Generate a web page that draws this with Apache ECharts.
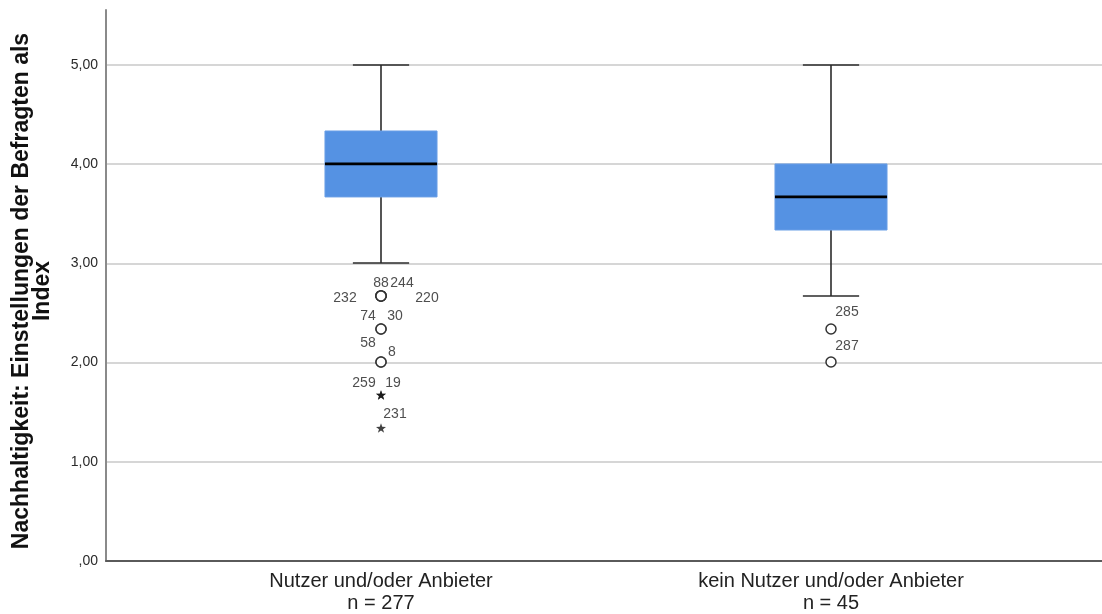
<!DOCTYPE html>
<html>
<head>
<meta charset="utf-8">
<script src="https://cdn.jsdelivr.net/npm/echarts@6/dist/echarts.min.js"></script>
<style>
  html, body { margin: 0; padding: 0; background: #fff; }
  #chart { width: 1102px; height: 614px; }
</style>
</head>
<body>
<div id="chart"></div>
<script>
// Groups and their case counts
const categories = ['Nutzer und/oder Anbieter', 'kein Nutzer und/oder Anbieter'];
const caseCounts = [277, 45];

// Box statistics per group
const whiskerLow  = [3.000, 2.667];
const quartile1   = [3.667, 3.333];
const medians     = [4.000, 3.667];
const quartile3   = [4.333, 4.000];
const whiskerHigh = [5.000, 5.000];

// Outlying cases: [group index, value, case number]
const mildOutliers = [
  [0, 2.667, '88'], [0, 2.667, '244'], [0, 2.667, '232'], [0, 2.667, '220'],
  [0, 2.333, '74'], [0, 2.333, '30'],
  [0, 2.000, '58'], [0, 2.000, '8'],
  [1, 2.333, '285'], [1, 2.000, '287']
];
const extremeOutliers = [
  [0, 1.667, '259'], [0, 1.667, '19'],
  [0, 1.333, '231']
];

// Y axis ticks
const yTicks = [0, 1, 2, 3, 4, 5];
const yMax = 5.555;

// Where each case number sits relative to its marker (px)
const caseLabelOffset = {
  '88': [0, -13], '244': [21, -13], '232': [-36, 2], '220': [46, 2],
  '74': [-13, -13], '30': [14, -13],
  '58': [-13, -19], '8': [11, -10],
  '259': [-17, -12], '19': [12, -12],
  '231': [14, -14],
  '285': [16, -17], '287': [16, -16]
};

const FONT = '"Liberation Sans", Arial, sans-serif';
const BOX_FRAC = 0.249;   // box width as share of a category band
const CAP_FRAC = 0.125;   // whisker cap width as share of a band
const STAR = 'path://M0,-10 L2.35,-3.24 L9.51,-3.09 L3.8,1.24 L5.88,8.09 L0,4 L-5.88,8.09 L-3.8,1.24 L-9.51,-3.09 L-2.35,-3.24 Z';

const fmtTick = v => v === 0 ? ',00' : v.toFixed(2).replace('.', ',');

function renderBox(params, api) {
  const i = api.value(0);
  const band = api.size([1, 0])[0];
  const hb = band * BOX_FRAC / 2;
  const hc = band * CAP_FRAC / 2;
  const pLow = api.coord([i, api.value(1)]);
  const pQ1 = api.coord([i, api.value(2)]);
  const pMed = api.coord([i, api.value(3)]);
  const pQ3 = api.coord([i, api.value(4)]);
  const pHigh = api.coord([i, api.value(5)]);
  const x = pMed[0];
  const lineStyle = { stroke: '#2b2b2b', lineWidth: 1.6 };
  return {
    type: 'group',
    children: [
      { type: 'line', shape: { x1: x, y1: pHigh[1], x2: x, y2: pQ3[1] }, style: lineStyle },
      { type: 'line', shape: { x1: x, y1: pQ1[1], x2: x, y2: pLow[1] }, style: lineStyle },
      { type: 'line', shape: { x1: x - hc, y1: pHigh[1], x2: x + hc, y2: pHigh[1] }, style: lineStyle },
      { type: 'line', shape: { x1: x - hc, y1: pLow[1], x2: x + hc, y2: pLow[1] }, style: lineStyle },
      { type: 'rect', shape: { x: x - hb, y: pQ3[1], width: hb * 2, height: pQ1[1] - pQ3[1] },
        style: { fill: '#5592e3', stroke: '#6a9fe6', lineWidth: 1 } },
      { type: 'line', shape: { x1: x - hb, y1: pMed[1], x2: x + hb, y2: pMed[1] },
        style: { stroke: '#000', lineWidth: 2.8 } }
    ]
  };
}

const boxData = categories.map((c, i) =>
  [i, whiskerLow[i], quartile1[i], medians[i], quartile3[i], whiskerHigh[i]]);

const labelData = mildOutliers.concat(extremeOutliers).map(d => ({
  value: [d[0], d[1]],
  name: d[2],
  label: { offset: caseLabelOffset[d[2]] || [0, -14] }
}));

const chart = echarts.init(document.getElementById('chart'), null, { renderer: 'canvas' });
chart.setOption({
  animation: false,
  backgroundColor: '#fff',
  textStyle: { fontFamily: FONT },
  grid: [
    { left: 106, right: 0, top: 10, bottom: 53 },
    { left: 156, width: 900, top: 10, bottom: 53 }
  ],
  xAxis: [
    {
      gridIndex: 0, type: 'value', min: 0, max: 1,
      axisLine: { show: true, lineStyle: { color: '#5a5a5a', width: 2 } },
      axisTick: { show: false }, axisLabel: { show: false }, splitLine: { show: false }
    },
    {
      gridIndex: 1, type: 'category', data: categories, boundaryGap: true,
      axisLine: { show: false }, axisTick: { show: false }, splitLine: { show: false },
      axisLabel: {
        margin: 10, fontSize: 20, lineHeight: 22, color: '#222', fontFamily: FONT,
        formatter: (v, i) => v + '\nn = ' + caseCounts[i]
      }
    }
  ],
  yAxis: [
    {
      gridIndex: 0, type: 'value', min: yTicks[0], max: yMax, interval: 1,
      axisLine: { show: true, lineStyle: { color: '#8a8a8a', width: 2 } },
      axisTick: { show: false },
      axisLabel: {
        margin: 8, fontSize: 14, color: '#2a2a2a', fontFamily: FONT,
        showMaxLabel: false, formatter: v => yTicks.includes(v) ? fmtTick(v) : ''
      },
      splitLine: { show: true, showMinLine: false, showMaxLine: false,
        lineStyle: { color: '#c8c8c8', width: 1.5 } }
    },
    {
      gridIndex: 1, type: 'value', min: yTicks[0], max: yMax, show: false
    }
  ],
  graphic: [{
    type: 'text', x: 32, y: 291, rotation: Math.PI / 2,
    style: {
      text: 'Nachhaltigkeit: Einstellungen der Befragten als\nIndex',
      font: 'bold 23px ' + FONT, fill: '#111',
      align: 'center', verticalAlign: 'middle', lineHeight: 21
    }
  }],
  series: [
    {
      type: 'custom', xAxisIndex: 1, yAxisIndex: 1,
      renderItem: renderBox, data: boxData, z: 2
    },
    {
      type: 'scatter', xAxisIndex: 1, yAxisIndex: 1, z: 3,
      symbol: 'circle', symbolSize: 10,
      itemStyle: { color: '#fff', borderColor: '#333', borderWidth: 1.5, opacity: 1 },
      data: mildOutliers.map(d => [d[0], d[1]])
    },
    {
      type: 'scatter', xAxisIndex: 1, yAxisIndex: 1, z: 3,
      symbol: STAR, symbolSize: 10, symbolKeepAspect: true,
      itemStyle: { color: '#111' },
      data: extremeOutliers.map(d => [d[0], d[1]])
    },
    {
      type: 'scatter', xAxisIndex: 1, yAxisIndex: 1, z: 4,
      symbolSize: 0, silent: true,
      label: {
        show: true, position: 'inside', fontSize: 14, color: '#222', fontFamily: FONT,
        formatter: p => p.name
      },
      data: labelData
    }
  ]
});
</script>
</body>
</html>
